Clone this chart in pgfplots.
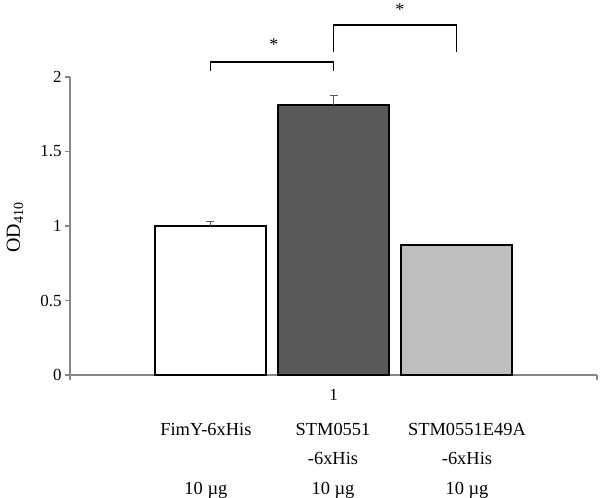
\documentclass[border=0pt]{standalone}
\usepackage{fontspec}
\setmainfont{Liberation Serif}
\usepackage{pgfplots}
\pgfplotsset{compat=1.18}
\definecolor{axgray}{RGB}{134,134,134}
\definecolor{darkbar}{RGB}{89,89,89}
\definecolor{lightbar}{RGB}{191,191,191}
\definecolor{errgray}{RGB}{90,90,90}
\begin{document}
\begin{tikzpicture}
\useasboundingbox (-70bp,-123bp) rectangle (530bp,375bp);
\begin{axis}[
    at={(0,0)}, anchor=south west,
    width=527bp, height=298bp, scale only axis,
    xmin=-2.142, xmax=2.142,
    ymin=0, ymax=2,
    axis x line*=bottom,
    axis y line*=left,
    axis line style={axgray, line width=2bp},
    ytick={0,0.5,1,1.5,2},
    xtick={0}, xticklabels={1},
    x tick style={draw=none},
    y tick style={axgray, line width=1.5bp},
    tick align=outside,
    major tick length=5bp,
    tick label style={font=\fontsize{17}{20}\selectfont},
    xticklabel style={yshift=-6bp},
    /pgf/number format/assume math mode=true,
    clip=false,
    ybar, bar width=0.91, bar shift=0pt,
]
% FimY-6xHis
\addplot[fill=white, draw=black, line width=2bp,
    error bars/.cd, y dir=plus, y explicit,
    error bar style={errgray, line width=1bp},
    error mark options={rotate=90, mark size=4bp, errgray, line width=1bp}]
    coordinates {(-1,1.0) +- (0,0.027)};
% STM0551-6xHis
\addplot[fill=darkbar, draw=black, line width=2bp,
    error bars/.cd, y dir=plus, y explicit,
    error bar style={errgray, line width=1bp},
    error mark options={rotate=90, mark size=4bp, errgray, line width=1bp}]
    coordinates {(0,1.81) +- (0,0.065)};
% STM0551E49A-6xHis
\addplot[fill=lightbar, draw=black, line width=2bp]
    coordinates {(1,0.872)};

% category boundary ticks
\draw[axgray, line width=1.5bp] (axis cs:-2.142,0) -- ++(0pt,-5bp);
\draw[axgray, line width=1.5bp] (axis cs:2.142,0) -- ++(0pt,-5bp);

% significance brackets
\draw[black, line width=1.5bp] (axis cs:-1,2.04) -- (axis cs:-1,2.10) -- (axis cs:0,2.10) -- (axis cs:0,2.04);
\draw[black, line width=1.5bp] (axis cs:0,2.17) -- (axis cs:0,2.35) -- (axis cs:1,2.35) -- (axis cs:1,2.17);
\node[anchor=base, font=\fontsize{18}{20}\selectfont] at (axis cs:-0.484,2.181) {*};
\node[anchor=base, font=\fontsize{18}{20}\selectfont] at (axis cs:0.54,2.416) {*};

% y label
\node[rotate=90, anchor=base, font=\fontsize{20}{22}\selectfont] at ([xshift=-50bp]axis cs:-2.142,0.99) {OD\textsubscript{410}};

% category table
\begin{scope}[every node/.style={anchor=base, font=\fontsize{18.5}{20}\selectfont}]
\node at (axis cs:-1.037,-0.409) {FimY-6xHis};
\node at (axis cs:-0.004,-0.409) {STM0551};
\node at (axis cs:1.085,-0.409) {STM0551E49A};
\node at (axis cs:-0.004,-0.604) {-6xHis};
\node at (axis cs:1.085,-0.604) {-6xHis};
\node at (axis cs:-1.037,-0.799) {10 µg};
\node at (axis cs:-0.004,-0.799) {10 µg};
\node at (axis cs:1.085,-0.799) {10 µg};
\end{scope}
\end{axis}
\end{tikzpicture}
\end{document}
